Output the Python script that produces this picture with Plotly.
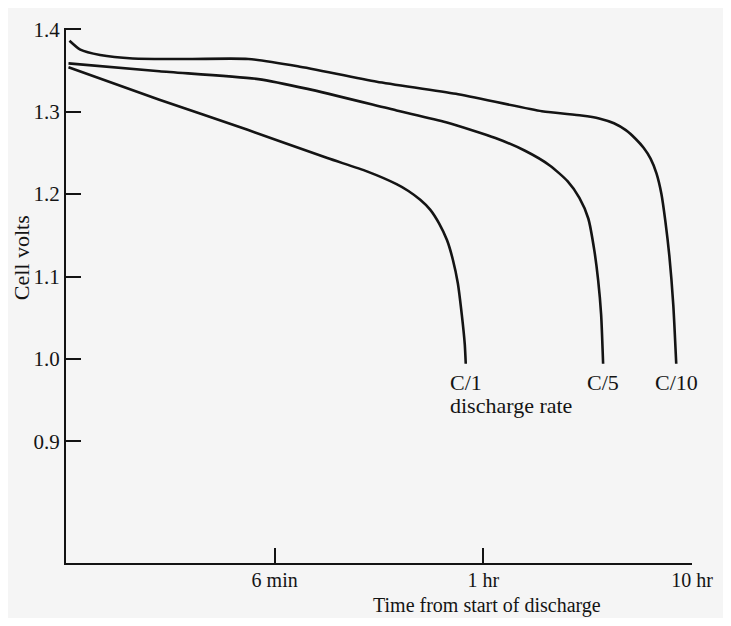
import numpy as np
import plotly.graph_objects as go

# time from start of discharge (hours, shown on a log axis) and cell voltage
c1_hours = [0.01028, 0.02803, 0.07478, 0.1789, 0.2767, 0.3838, 0.4375, 0.4985, 0.5560,
            0.6135, 0.6694, 0.7145, 0.7547, 0.7884, 0.8147, 0.8236]
c1_volts = [1.3539, 1.3146, 1.2777, 1.2437, 1.2276, 1.2121, 1.2038, 1.1931, 1.1812,
            1.1645, 1.1442, 1.1204, 1.0918, 1.0537, 1.0179, 0.9941]

c5_hours = [0.01028, 0.02803, 0.08341, 0.1438, 0.3838, 0.6622, 1.1425, 1.5845, 2.0810,
            2.5322, 2.8862, 3.1842, 3.4000, 3.5508, 3.6689, 3.7497]
c5_volts = [1.3587, 1.3491, 1.3396, 1.3277, 1.3015, 1.2872, 1.2681, 1.2526, 1.2348,
            1.2157, 1.1954, 1.1704, 1.1323, 1.0954, 1.0537, 0.9941]

c10_hours = [0.01039, 0.01171, 0.01457, 0.02088, 0.03887, 0.07478, 0.129, 0.3087, 0.7385,
             1.9072, 2.9499, 3.5892, 4.2277, 4.8172, 5.3752, 5.8614, 6.3298, 6.7566,
             7.1358, 7.4548, 7.7868, 8.1333, 8.4040]
c10_volts = [1.3861, 1.3753, 1.3688, 1.3646, 1.3640, 1.3640, 1.3551, 1.3364, 1.3217,
             1.3006, 1.2955, 1.2919, 1.2860, 1.2776, 1.2669, 1.2562, 1.2431, 1.2252,
             1.2002, 1.1669, 1.1252, 1.0656, 0.9941]

rate_labels = ["C/1", "C/5", "C/10"]

x_tickvals = [0.1, 1, 10]
x_ticktext = ["6 min", "1 hr", "10 hr"]
y_tickvals = [0.9, 1.0, 1.1, 1.2, 1.3, 1.4]
y_ticktext = ["0.9", "1.0", "1.1", "1.2", "1.3", "1.4"]

INK = "#141414"
SERIF = "Liberation Serif, Times New Roman, serif"
PAPER = "#f5f5f5"

fig = go.Figure()

series = [(c1_hours, c1_volts), (c5_hours, c5_volts), (c10_hours, c10_volts)]
for (hours, volts), label in zip(series, rate_labels):
    fig.add_trace(
        go.Scatter(
            x=hours,
            y=volts,
            mode="lines",
            name=label,
            line=dict(color=INK, width=2.6, shape="spline", smoothing=0.6),
            hoverinfo="skip",
            showlegend=False,
        )
    )
    # rate label just under where each curve stops
    fig.add_annotation(
        x=np.log10(hours[-1]), y=volts[-1], xref="x", yref="y",
        text=label, showarrow=False, xanchor="center", yanchor="top", yshift=-4,
        font=dict(family=SERIF, size=22, color=INK),
    )

fig.add_annotation(
    x=0.6098, y=0.2936, xref="paper", yref="paper",
    text="discharge rate", showarrow=False, xanchor="left", yanchor="middle",
    font=dict(family=SERIF, size=22, color=INK),
)
fig.add_annotation(
    x=0.673, y=-0.0790, xref="paper", yref="paper",
    text="Time from start of discharge", showarrow=False, xanchor="center", yanchor="middle",
    font=dict(family=SERIF, size=20, color=INK),
)
fig.add_annotation(
    x=-0.0711, y=0.5706, xref="paper", yref="paper",
    text="Cell volts", showarrow=False, textangle=-90, xanchor="center", yanchor="middle",
    font=dict(family=SERIF, size=22, color=INK),
)

fig.update_xaxes(
    type="log", range=[-2, 1.0],
    tickvals=x_tickvals, ticktext=x_ticktext,
    ticks="inside", ticklen=15, tickwidth=2, tickcolor=INK,
    ticklabelstandoff=-2, ticklabeloverflow="allow",
    showline=True, linewidth=2, linecolor=INK,
    showgrid=False, zeroline=False,
    tickfont=dict(family=SERIF, size=20, color=INK),
)
fig.update_yaxes(
    range=[0.7523, 1.4016],
    tickvals=y_tickvals, ticktext=y_ticktext,
    ticks="inside", ticklen=15, tickwidth=2, tickcolor=INK,
    ticklabeloverflow="allow",
    showline=True, linewidth=2, linecolor=INK,
    showgrid=False, zeroline=False,
    tickfont=dict(family=SERIF, size=21, color=INK),
)

# the page body keeps an 8px margin, so the figure is sized to sit inside it
fig.update_layout(
    width=715, height=610,
    margin=dict(l=58, r=24, t=10, b=55),
    paper_bgcolor=PAPER,
    plot_bgcolor=PAPER,
)

fig.write_html("out.html")
